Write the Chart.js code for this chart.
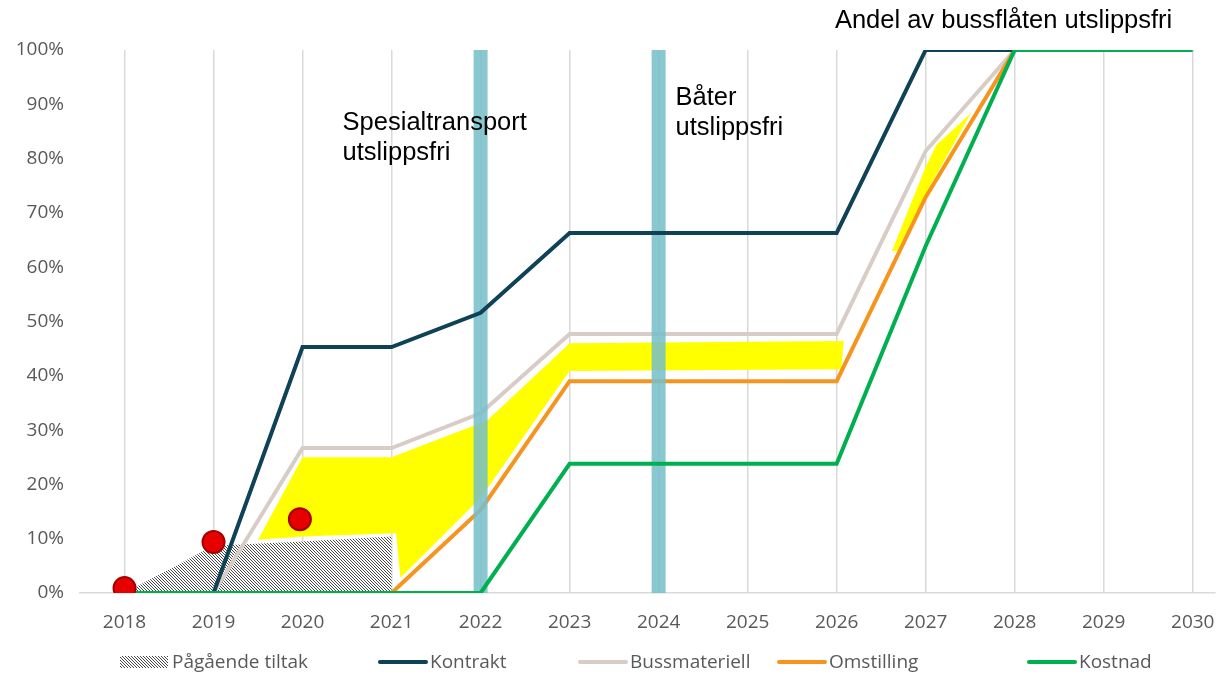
<!DOCTYPE html>
<html>
<head>
<meta charset="utf-8">
<script src="https://cdn.jsdelivr.net/npm/chart.js@4.4.0/dist/chart.umd.min.js"></script>
<style>
  html, body { margin: 0; padding: 0; background: #fff; }
  #wrap { width: 1228px; height: 675px; position: relative; }
</style>
</head>
<body>
<div id="wrap"><canvas id="chart"></canvas></div>
<script>
// --- data (percent) ---
var years = [2018, 2019, 2020, 2021, 2022, 2023, 2024, 2025, 2026, 2027, 2028, 2029, 2030];
var kontrakt      = [0, 0, 45.3, 45.3, 51.6, 66.3, 66.3, 66.3, 66.3, 100, 100];
var bussmateriell = [0, 0, 26.7, 26.7, 33.1, 47.7, 47.7, 47.7, 47.7, 81.4, 100];
var omstilling    = [0, 0, 0, 0, 15.3, 39, 39, 39, 39, 72.9, 100];
var kostnad       = [0, 0, 0, 0, 0, 23.8, 23.8, 23.8, 23.8, 63.9, 100, 100, 100];

// hatched "Pågående tiltak" area
var pagaendeX = [2018, 2019, 2020, 2021, 2021, 2018];
var pagaendeY = [0, 8.7, 9.5, 10.4, 0, 0];

// red markers
var markerX = [2018, 2019, 2019.97];
var markerY = [0.9, 9.4, 13.6];

// yellow band (two freeform shapes)
var gulX = [2019.5, 2020, 2021, 2022.07, 2023, 2026.08, 2026.05, 2023, 2022, 2021.1, 2021.05, 2020, 2019.5];
var gulY = [9.8, 25, 25, 31.7, 46, 46.4, 41.2, 40.9, 17.5, 2.8, 11, 10.4, 9.8];
var gul2X = [2026.62, 2027.0, 2027.12, 2027.51, 2027.05, 2026.68, 2026.62];
var gul2Y = [63, 78.5, 82.5, 88.4, 75, 63, 63];

// milestone bars
var milestoneYears = [2022, 2024];

var yTicks = [0, 10, 20, 30, 40, 50, 60, 70, 80, 90, 100];

var notes = [
  { lines: ['Andel av bussflåten utslippsfri'], x: 2025.98, y: 105.3 },
  { lines: ['Spesialtransport', 'utslippsfri'], x: 2020.45, y: 86.5 },
  { lines: ['Båter', 'utslippsfri'], x: 2024.19, y: 91.2 }
];

var colors = {
  kontrakt: '#0f4157',
  bussmateriell: '#d8cdc6',
  omstilling: '#f7941d',
  kostnad: '#00b050',
  gul: '#ffff00',
  bar: 'rgba(118, 190, 201, 0.85)',
  text: '#595959',
  grid: '#d9d9d9'
};

function pts(xs, ys) {
  return ys.map(function (y, i) { return { x: xs[i], y: y }; });
}

// fine diagonal hatch pattern
function makeHatch() {
  var c = document.createElement('canvas');
  c.width = 3; c.height = 3;
  var g = c.getContext('2d');
  g.fillStyle = '#fff';
  g.fillRect(0, 0, 3, 3);
  g.fillStyle = '#474747';
  for (var i = 0; i < 3; i++) {
    g.fillRect(i, i, 1, 1);
  }
  return g.createPattern(c, 'repeat');
}
var hatch = makeHatch();

function lineSet(label, data, color, order) {
  return {
    label: label,
    data: pts(years, data),
    showLine: true,
    borderColor: color,
    backgroundColor: color,
    borderWidth: 4,
    pointRadius: 0,
    fill: false,
    order: order
  };
}

var datasets = [
  {
    label: 'Pågående tiltak',
    data: pts(pagaendeX, pagaendeY),
    showLine: true,
    borderWidth: 0,
    borderColor: 'rgba(0,0,0,0)',
    backgroundColor: hatch,
    fill: 'shape',
    pointRadius: 0,
    order: 9
  },
  {
    label: 'gul',
    data: pts(gulX, gulY),
    showLine: true,
    borderWidth: 0,
    borderColor: 'rgba(0,0,0,0)',
    backgroundColor: colors.gul,
    fill: 'shape',
    pointRadius: 0,
    order: 8
  },
  {
    label: 'gul2',
    data: pts(gul2X, gul2Y),
    showLine: true,
    borderWidth: 0,
    borderColor: 'rgba(0,0,0,0)',
    backgroundColor: colors.gul,
    fill: 'shape',
    pointRadius: 0,
    order: 8
  },
  lineSet('Bussmateriell', bussmateriell, colors.bussmateriell, 6),
  lineSet('Omstilling', omstilling, colors.omstilling, 5)
];

milestoneYears.forEach(function (yr) {
  datasets.push({
    label: 'milestone ' + yr,
    data: [{ x: yr, y: 0 }, { x: yr, y: 100 }],
    showLine: true,
    borderColor: colors.bar,
    borderWidth: 14,
    borderCapStyle: 'butt',
    pointRadius: 0,
    fill: false,
    order: 4
  });
});

datasets.push(lineSet('Kontrakt', kontrakt, colors.kontrakt, 3));
datasets.push(lineSet('Kostnad', kostnad, colors.kostnad, 2));
datasets.push({
  label: 'markers',
  data: pts(markerX, markerY),
  showLine: false,
  pointRadius: 11,
  pointHoverRadius: 11,
  pointBackgroundColor: '#e60000',
  pointBorderColor: '#a50000',
  pointBorderWidth: 2,
  order: 0
});

// custom legend, laid out like the original
var legendItems = [
  { label: 'Pågående tiltak', fill: hatch, x: 120 },
  { label: 'Kontrakt', color: colors.kontrakt, x: 378 },
  { label: 'Bussmateriell', color: colors.bussmateriell, x: 578 },
  { label: 'Omstilling', color: colors.omstilling, x: 777 },
  { label: 'Kostnad', color: colors.kostnad, x: 1027 }
];

var extras = {
  id: 'extras',
  afterDraw: function (chart) {
    var ctx = chart.ctx;
    var xs = chart.scales.x, ys = chart.scales.y;
    ctx.save();
    // annotations
    ctx.fillStyle = '#000';
    ctx.font = '25.5px "Liberation Sans", Arial, sans-serif';
    ctx.textAlign = 'left';
    ctx.textBaseline = 'middle';
    notes.forEach(function (n) {
      var px = xs.getPixelForValue(n.x);
      var py = ys.getPixelForValue(n.y);
      n.lines.forEach(function (t, i) {
        ctx.fillText(t, px, py + i * 30);
      });
    });
    // legend
    var ly = 662;
    ctx.font = '19px "Open Sans", sans-serif';
    legendItems.forEach(function (it) {
      if (it.fill) {
        ctx.fillStyle = it.fill;
        ctx.fillRect(it.x, ly - 6, 48, 12);
      } else {
        ctx.strokeStyle = it.color;
        ctx.lineWidth = 4;
        ctx.lineCap = 'round';
        ctx.beginPath();
        ctx.moveTo(it.x + 2, ly);
        ctx.lineTo(it.x + 48, ly);
        ctx.stroke();
      }
      ctx.fillStyle = colors.text;
      ctx.fillText(it.label, it.x + 52, ly + 1);
    });
    ctx.restore();
  }
};

new Chart(document.getElementById('chart'), {
  type: 'scatter',
  data: { datasets: datasets },
  plugins: [extras],
  options: {
    responsive: true,
    maintainAspectRatio: false,
    animation: false,
    layout: { padding: { top: 50, right: 12, bottom: 0, left: 0 } },
    plugins: {
      legend: { display: false },
      tooltip: { enabled: false },
      filler: { drawTime: 'beforeDatasetDraw' }
    },
    scales: {
      x: {
        type: 'linear',
        min: 2017.5,
        max: 2030.25,
        afterFit: function (s) {
          s.height = 82;
          s.paddingLeft = 0;
          s.paddingRight = 0;
        },
        afterBuildTicks: function (s) {
          s.ticks = years.map(function (y) { return { value: y }; });
        },
        grid: {
          color: colors.grid,
          lineWidth: 1.5,
          drawTicks: false
        },
        border: { color: colors.grid, width: 1.5 },
        ticks: {
          padding: 18,
          color: colors.text,
          font: { family: 'Open Sans', size: 19 },
          callback: function (v) { return String(v); }
        }
      },
      y: {
        min: 0,
        max: 100,
        afterFit: function (s) { s.width = 80; },
        afterBuildTicks: function (s) {
          s.ticks = yTicks.map(function (v) { return { value: v }; });
        },
        grid: { display: false, drawTicks: false },
        border: { display: false },
        ticks: {
          padding: 16,
          color: colors.text,
          font: { family: 'Open Sans', size: 19 },
          callback: function (v) { return v + '%'; }
        }
      }
    }
  }
});
</script>
</body>
</html>
